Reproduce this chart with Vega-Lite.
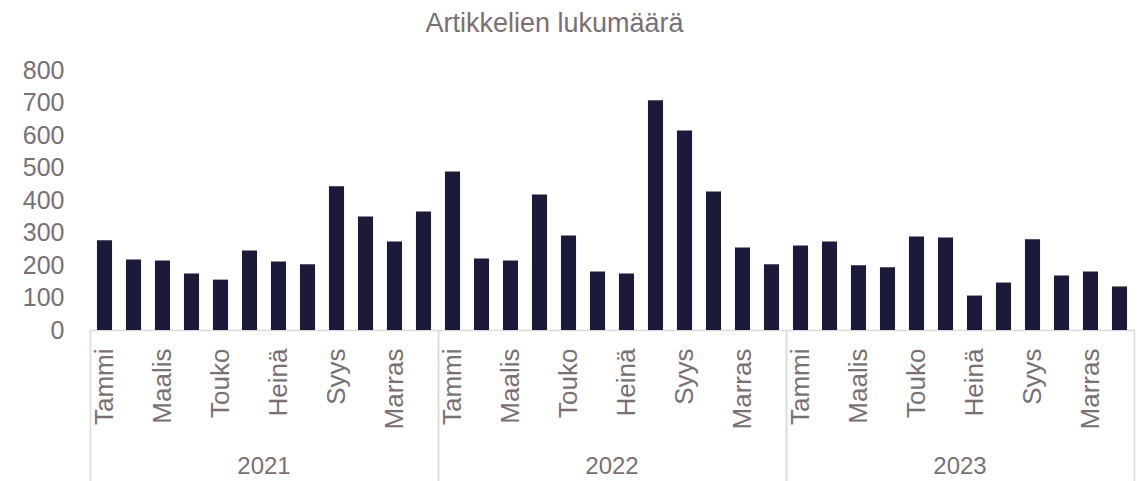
{
  "$schema": "https://vega.github.io/schema/vega-lite/v6.json",
  "padding": {"left": 22, "top": 10, "right": 9, "bottom": 0},
  "title": {"text": "Artikkelien lukumäärä", "font": "Liberation Sans", "fontSize": 27, "fontWeight": "normal", "color": "#7b6f72", "anchor": "middle", "offset": 20, "dx": -24},
  "data": {"values": [
    {"vuosi": "2021", "kuukausi": "Tammi", "artikkelit": 276},
    {"vuosi": "2021", "kuukausi": "Helmi", "artikkelit": 217},
    {"vuosi": "2021", "kuukausi": "Maalis", "artikkelit": 214},
    {"vuosi": "2021", "kuukausi": "Huhti", "artikkelit": 174},
    {"vuosi": "2021", "kuukausi": "Touko", "artikkelit": 155},
    {"vuosi": "2021", "kuukausi": "Kesä", "artikkelit": 245},
    {"vuosi": "2021", "kuukausi": "Heinä", "artikkelit": 211},
    {"vuosi": "2021", "kuukausi": "Elo", "artikkelit": 202},
    {"vuosi": "2021", "kuukausi": "Syys", "artikkelit": 442},
    {"vuosi": "2021", "kuukausi": "Loka", "artikkelit": 349},
    {"vuosi": "2021", "kuukausi": "Marras", "artikkelit": 272},
    {"vuosi": "2021", "kuukausi": "Joulu", "artikkelit": 365},
    {"vuosi": "2022", "kuukausi": "Tammi", "artikkelit": 488},
    {"vuosi": "2022", "kuukausi": "Helmi", "artikkelit": 220},
    {"vuosi": "2022", "kuukausi": "Maalis", "artikkelit": 214},
    {"vuosi": "2022", "kuukausi": "Huhti", "artikkelit": 417},
    {"vuosi": "2022", "kuukausi": "Touko", "artikkelit": 291},
    {"vuosi": "2022", "kuukausi": "Kesä", "artikkelit": 180},
    {"vuosi": "2022", "kuukausi": "Heinä", "artikkelit": 174},
    {"vuosi": "2022", "kuukausi": "Elo", "artikkelit": 707},
    {"vuosi": "2022", "kuukausi": "Syys", "artikkelit": 614},
    {"vuosi": "2022", "kuukausi": "Loka", "artikkelit": 426},
    {"vuosi": "2022", "kuukausi": "Marras", "artikkelit": 254},
    {"vuosi": "2022", "kuukausi": "Joulu", "artikkelit": 202},
    {"vuosi": "2023", "kuukausi": "Tammi", "artikkelit": 260},
    {"vuosi": "2023", "kuukausi": "Helmi", "artikkelit": 272},
    {"vuosi": "2023", "kuukausi": "Maalis", "artikkelit": 199},
    {"vuosi": "2023", "kuukausi": "Huhti", "artikkelit": 193},
    {"vuosi": "2023", "kuukausi": "Touko", "artikkelit": 288},
    {"vuosi": "2023", "kuukausi": "Kesä", "artikkelit": 285},
    {"vuosi": "2023", "kuukausi": "Heinä", "artikkelit": 106},
    {"vuosi": "2023", "kuukausi": "Elo", "artikkelit": 146},
    {"vuosi": "2023", "kuukausi": "Syys", "artikkelit": 279},
    {"vuosi": "2023", "kuukausi": "Loka", "artikkelit": 168},
    {"vuosi": "2023", "kuukausi": "Marras", "artikkelit": 180},
    {"vuosi": "2023", "kuukausi": "Joulu", "artikkelit": 134}
  ]},
  "facet": {"column": {"field": "vuosi", "type": "ordinal", "header": {"title": null, "labelOrient": "bottom", "labelFont": "Liberation Sans", "labelFontSize": 24, "labelColor": "#7b6f72", "labelPadding": -27}}},
  "spacing": 0,
  "spec": {
    "width": 348,
    "height": 260,
    "mark": {"type": "bar", "color": "#1b1a38", "width": {"band": 0.52}},
    "encoding": {
      "x": {
        "field": "kuukausi", "type": "ordinal",
        "sort": ["Tammi", "Helmi", "Maalis", "Huhti", "Touko", "Kesä", "Heinä", "Elo", "Syys", "Loka", "Marras", "Joulu"],
        "scale": {"paddingInner": 0, "paddingOuter": 0},
        "axis": {
          "title": null,
          "labelAngle": -90,
          "labelFont": "Liberation Sans",
          "labelFontSize": 26,
          "labelColor": "#7b6f72",
          "labelPadding": -133,
          "labelExpr": "indexof(['Tammi','Maalis','Touko','Heinä','Syys','Marras'], datum.label) >= 0 ? datum.label : ''",
          "domainColor": "#d9d9d9",
          "domainWidth": 1.5,
          "tickBand": "extent",
          "tickSize": 151,
          "tickColor": "#d9d9d9",
          "tickWidth": 1.5,
          "tickOpacity": {"condition": {"test": "datum.index < 0 || datum.index >= 1", "value": 1}, "value": 0}
        }
      },
      "y": {
        "field": "artikkelit", "type": "quantitative",
        "scale": {"domain": [0, 800]},
        "axis": {"title": null, "values": [0, 100, 200, 300, 400, 500, 600, 700, 800], "grid": false, "domain": false, "ticks": false, "labelFont": "Liberation Sans", "labelFontSize": 25, "labelColor": "#7b6f72", "labelPadding": 26}
      }
    }
  },
  "config": {"view": {"stroke": null}}
}
